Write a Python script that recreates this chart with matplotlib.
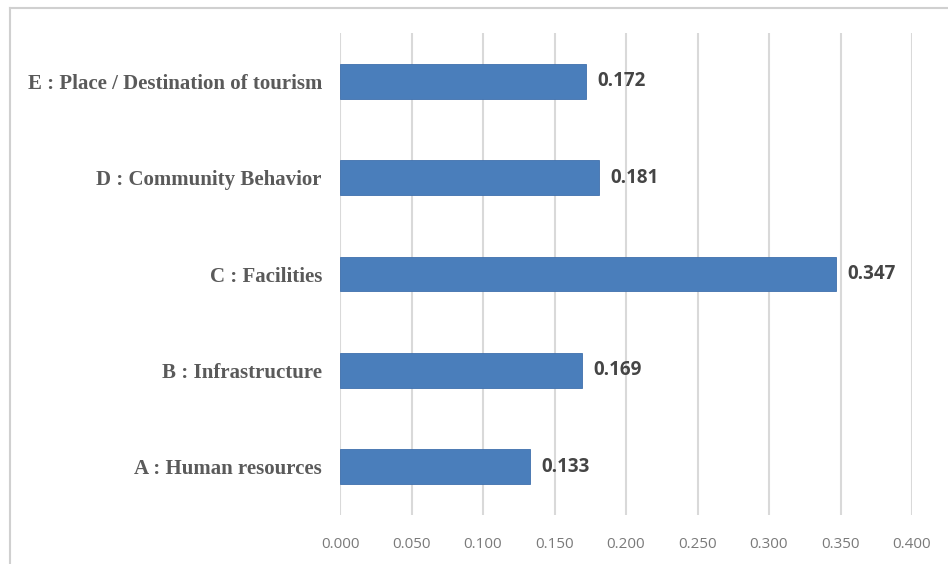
import matplotlib
matplotlib.use("Agg")
import matplotlib.pyplot as plt
from matplotlib.lines import Line2D

categories = ["A : Human resources", "B : Infrastructure", "C : Facilities",
              "D : Community Behavior", "E : Place / Destination of tourism"]
values = [0.133, 0.169, 0.347, 0.181, 0.172]
xticks = [0.0, 0.05, 0.10, 0.15, 0.20, 0.25, 0.30, 0.35, 0.40]
xtick_labels = ["0.000", "0.050", "0.100", "0.150", "0.200", "0.250", "0.300", "0.350", "0.400"]

fig = plt.figure(figsize=(9.48, 5.64), dpi=100)
ax = fig.add_axes([340/948, 1-515/564, (912-340)/948, (515-33)/564])

ypos = list(range(len(categories)))
ax.barh(ypos, values, height=0.36, color="#4a7ebb", edgecolor="#3f70ad", linewidth=0.6, zorder=3)
for y, v in zip(ypos, values):
    ax.text(v + 0.008, y, f"{v:.3f}", va="center", ha="left", fontsize=13.5,
            fontweight="bold", family="Open Sans", color="#454545")

ax.set_xlim(0, 0.4)
ax.set_ylim(-0.5, 4.5)
ax.set_xticks(xticks)
ax.set_xticklabels(xtick_labels, family="Open Sans", fontsize=11, color="#7a7a7a")
ax.set_yticks(ypos)
ax.set_yticklabels(categories, family="Liberation Serif", fontweight="bold", fontsize=15, color="#5a5a5a")
ax.tick_params(axis="both", length=0)
ax.tick_params(axis="y", pad=13)
ax.tick_params(axis="x", pad=16)
ax.grid(axis="x", color="#d9d9d9", linewidth=1.5, zorder=0)
for s in ax.spines.values():
    s.set_visible(False)

# chart frame (left and top edges visible)
fig.add_artist(Line2D([10/948, 10/948], [0, 1-8/564], transform=fig.transFigure, color="#d0d0d0", linewidth=1.5))
fig.add_artist(Line2D([10/948, 1], [1-8/564, 1-8/564], transform=fig.transFigure, color="#d0d0d0", linewidth=1.5))

fig.savefig("out.png", dpi=100)
